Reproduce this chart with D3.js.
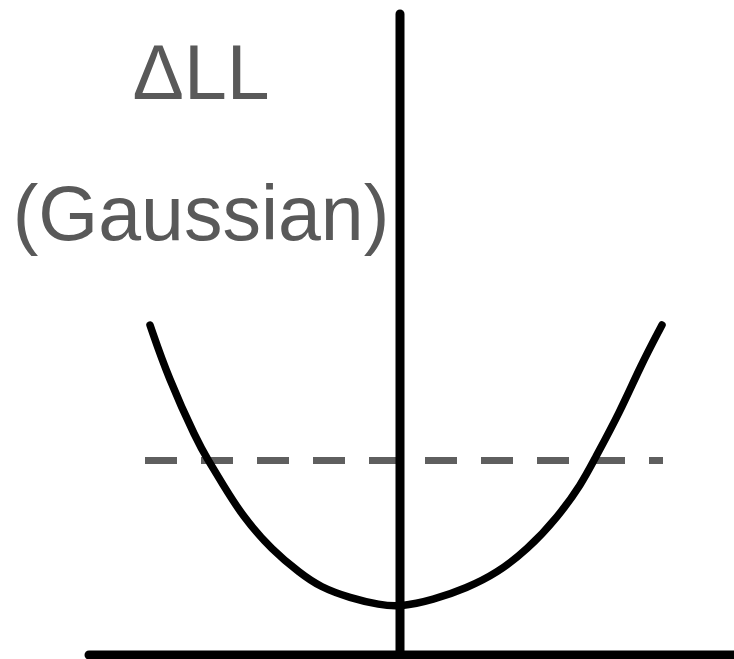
<!DOCTYPE html>
<html>
<head>
<meta charset="utf-8">
<script src="https://cdn.jsdelivr.net/npm/d3@7"></script>
<style>
  html, body { margin: 0; padding: 0; background: #ffffff; }
  svg { display: block; }
</style>
</head>
<body>
<svg id="chart" width="734" height="659"></svg>
<script>
// curve (x = parameter offset, y = delta log-likelihood)
var curveX = [-2.50, -2.32, -2.03, -1.92, -1.78, -1.57, -1.28, -1.00, -0.80, -0.50, -0.20, 0.00,
              0.33, 0.67, 0.97, 1.27, 1.58, 1.82, 1.93, 2.20, 2.40, 2.62];
var curveY = [3.30, 2.78, 2.14, 1.95, 1.72, 1.38, 1.05, 0.82, 0.68, 0.57, 0.50, 0.48,
              0.55, 0.67, 0.82, 1.05, 1.38, 1.72, 1.93, 2.43, 2.88, 3.30];
var thresholdY = [1.945];
var thresholdX = [-2.55, 2.63];
var axisXExtent = [-3.11, 3.40];
var axisYExtent = [-0.04, 6.41];
var labelLines = ["\u0394LL", "(Gaussian)"];

document.addEventListener('DOMContentLoaded', function () {
    var data = [];
    for (var i = 0; i < curveX.length; i++) {
        data.push({ x: curveX[i], y: curveY[i] });
    }

    // 1 unit = 100px, origin at the crossing of the axes
    let xScale = d3.scaleLinear().domain([-4, 3.34]).range([0, 734]);
    let yScale = d3.scaleLinear().domain([0, 6.55]).range([655, 0]);

    const svg = d3.select('#chart');

    // label
    svg.selectAll('.label')
        .data(labelLines)
        .enter()
        .append('text')
        .attr('class', 'label')
        .attr('x', 201)
        .attr('y', function (d, i) { return i == 0 ? 99 : 240; })
        .attr('text-anchor', 'middle')
        .attr('font-family', 'Liberation Sans, Arial, sans-serif')
        .attr('font-size', 77)
        .attr('fill', '#595959')
        .text(function (d) { return d; });

    // threshold (dashed)
    svg.append('line')
        .attr('x1', xScale(thresholdX[0]))
        .attr('x2', xScale(thresholdX[1]))
        .attr('y1', yScale(thresholdY[0]))
        .attr('y2', yScale(thresholdY[0]))
        .attr('stroke', '#5f5f5f')
        .attr('stroke-width', 7)
        .attr('stroke-dasharray', '32 24');

    // vertical axis
    svg.append('line')
        .attr('x1', xScale(0)).attr('x2', xScale(0))
        .attr('y1', yScale(axisYExtent[0])).attr('y2', yScale(axisYExtent[1]))
        .attr('stroke', '#000')
        .attr('stroke-width', 9)
        .attr('stroke-linecap', 'round');

    // horizontal axis
    svg.append('line')
        .attr('x1', xScale(axisXExtent[0])).attr('x2', xScale(axisXExtent[1]))
        .attr('y1', yScale(0)).attr('y2', yScale(0))
        .attr('stroke', '#000')
        .attr('stroke-width', 9)
        .attr('stroke-linecap', 'round');

    // likelihood curve
    svg.append('path')
        .datum(data)
        .attr('d', d3.line()
            .x(function (d) { return xScale(d.x); })
            .y(function (d) { return yScale(d.y); })
            .curve(d3.curveBasis))
        .attr('fill', 'none')
        .attr('stroke', '#000')
        .attr('stroke-width', 7.5)
        .attr('stroke-linecap', 'round');
});
</script>
</body>
</html>
